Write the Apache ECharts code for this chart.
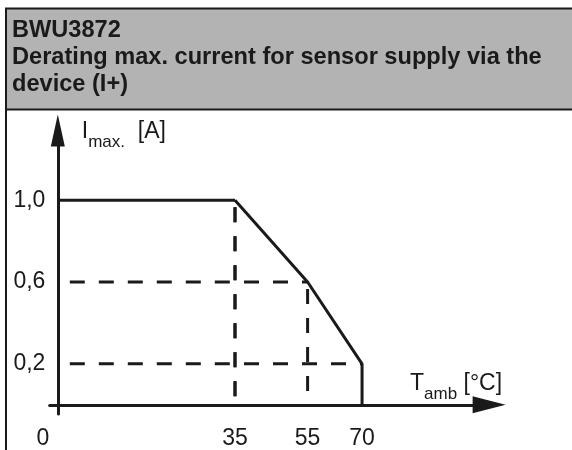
<!DOCTYPE html>
<html>
<head>
<meta charset="utf-8">
<script src="https://cdn.jsdelivr.net/npm/echarts@6/dist/echarts.min.js"></script>
<style>
html, body { margin: 0; background: #fff; }
#main { width: 572px; height: 450px; }
</style>
</head>
<body>
<div id="main"></div>
<script>
// derating curve
var tempC = [0, 35, 55, 70, 70];
var currentA = [1.0, 1.0, 0.6, 0.2, 0];
var xTicks = [0, 35, 55, 70];
var yTicks = [0.2, 0.6, 1.0];
// dashed helper lines
var vGuideX = [35, 55];
var vGuideTop = [1.0, 0.6];
var hGuideY = [0.6, 0.2];
var hGuideEnd = [55, 70];

var ink = '#1a1a1a';
var font = 'Liberation Sans, Arial, sans-serif';
// the drawing is not to scale: the part left of 35 °C is stretched,
// so the x axis is made of two grids joined at this value
var xBreak = 35;

var chartDom = document.getElementById('main');
var myChart = echarts.init(chartDom);

function splitAt(data) {
	var a = [], b = [];
	for (var i = 0; i < data.length; i++) {
		var p = data[i], q = data[i + 1];
		if (p[0] <= xBreak) a.push(p);
		if (p[0] >= xBreak) b.push(p);
		if (q && (p[0] - xBreak) * (q[0] - xBreak) < 0) {
			var y = p[1] + (q[1] - p[1]) * (xBreak - p[0]) / (q[0] - p[0]);
			a.push([xBreak, y]);
			b.push([xBreak, y]);
		}
	}
	return [a, b];
}

var series = [];
function addLine(data, style, offsets) {
	splitAt(data).forEach(function (part, g) {
		if (part.length < 2) return;
		var ls = { color: ink, width: 3 };
		if (style === 'dashed') {
			ls.type = [15, 14];
			ls.dashOffset = offsets[g];
		}
		series.push({
			type: 'line',
			xAxisIndex: g,
			yAxisIndex: g,
			data: part,
			symbol: 'none',
			clip: false,
			z: style === 'dashed' ? 2 : 5,
			lineStyle: ls
		});
	});
}

addLine(tempC.map(function (t, i) { return [t, currentA[i]]; }), 'solid');
vGuideX.forEach(function (x, i) {
	addLine([[x, vGuideTop[i]], [x, 0]], 'dashed', [22, 22]);
});
hGuideY.forEach(function (y, i) {
	addLine([[0, y], [hGuideEnd[i], y]], 'dashed', [17, 20]);
});

var tickLabel = { margin: 13, fontSize: 23, color: ink };
var rich = {
	t: { fontSize: 23, lineHeight: 26, verticalAlign: 'top', color: ink },
	s: { fontSize: 17, lineHeight: 20, padding: [14, 0, 0, 0], verticalAlign: 'top', color: ink }
};
var axisLine = { onZero: true, lineStyle: { color: ink, width: 3 } };

var option = {
	animation: false,
	textStyle: { fontFamily: font, color: ink },
	title: {
		text: 'BWU3872\nDerating max. current for sensor supply via the\ndevice (I+)',
		left: 12,
		top: 17.5,
		padding: 0,
		textStyle: { fontFamily: font, fontSize: 23.6, fontWeight: 'bold', lineHeight: 26.7, color: ink }
	},
	graphic: [{
		type: 'rect',
		z: -10,
		shape: { x: 6, y: 8.5, width: 600, height: 101 },
		style: { fill: '#b3b3b3', stroke: ink, lineWidth: 2 }
	}, {
		type: 'line',
		z: -10,
		shape: { x1: 6, y1: 8.5, x2: 6, y2: 450 },
		style: { stroke: ink, lineWidth: 2 }
	}],
	grid: [
		{ left: 49.7, width: 185.3, top: 130.6, bottom: 32.7 },
		{ left: 235, right: 82.9, top: 130.6, bottom: 32.7 }
	],
	xAxis: [{
		type: 'value',
		gridIndex: 0,
		min: -1.6,
		max: xBreak,
		splitLine: { show: false },
		axisTick: { show: false },
		axisLine: axisLine,
		axisLabel: Object.assign({}, tickLabel, {
			customValues: [xTicks[0]],
			formatter: '{o|{value}}',
			rich: { o: { fontSize: 23, color: ink, padding: [0, 30, 0, 0] } }
		})
	}, {
		type: 'value',
		gridIndex: 1,
		min: xBreak,
		max: 105,
		splitLine: { show: false },
		axisTick: { show: false },
		axisLine: Object.assign({}, axisLine, { symbol: ['none', 'triangle'], symbolSize: [17, 33] }),
		axisLabel: Object.assign({}, tickLabel, { customValues: xTicks.slice(1) }),
		name: '{t|T}{s|amb}{t| [°C]}',
		nameLocation: 'end',
		nameGap: 13,
		nameTextStyle: { align: 'right', verticalAlign: 'bottom', padding: [0, 0, 7, 0], rich: rich }
	}],
	yAxis: [{
		type: 'value',
		gridIndex: 0,
		min: -0.045,
		max: 1.34,
		splitLine: { show: false },
		axisTick: { show: false },
		axisLine: Object.assign({}, axisLine, { symbol: ['none', 'triangle'], symbolSize: [14, 32] }),
		axisLabel: Object.assign({}, tickLabel, {
			customValues: yTicks,
			margin: 4.3,
			formatter: function (v) { return v.toFixed(1).replace('.', ','); }
		}),
		name: '{t|I}{s|max.}{t|  [A]}',
		nameLocation: 'end',
		nameGap: -2.4,
		nameTextStyle: { align: 'left', verticalAlign: 'middle', padding: [0, 0, 0, 24], rich: rich }
	}, {
		type: 'value',
		gridIndex: 1,
		min: -0.045,
		max: 1.34,
		show: false
	}],
	series: series
};
option && myChart.setOption(option);
</script>
</body>
</html>
